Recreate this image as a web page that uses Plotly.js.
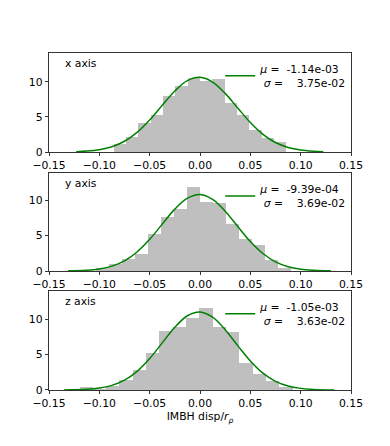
<!DOCTYPE html>
<html lang="en">
<head>
    <meta charset="UTF-8">
    <title>IMBH displacement</title>
    <script src="https://cdn.plot.ly/plotly-3.0.1.min.js"></script>
    <style>
        body { margin: 0; background: white; }
        #plot { width: 390px; height: 446px; }
    </style>
</head>
<body>
    <div id="plot"></div>
    <script>
        // tick labels
        const xTickVals = [-0.15, -0.10, -0.05, 0.00, 0.05, 0.10, 0.15];
        const xTickText = ['\u22120.15', '\u22120.10', '\u22120.05', '0.00', '0.05', '0.10', '0.15'];
        const yTickVals = [0, 5, 10];

        const panelNames = ['x axis', 'y axis', 'z axis'];
        const muText = ['-1.14e-03', '-9.39e-04', '-1.05e-03'];
        const sigmaText = ['3.75e-02', '3.69e-02', '3.63e-02'];

        // histogram bins (left edges, widths, heights)
        const binLeftX = [-0.0856, -0.0734, -0.0611, -0.0489, -0.0367, -0.0245, -0.0122, 0.0000, 0.0122, 0.0245, 0.0367, 0.0489, 0.0611, 0.0734];
        const binWidthX = 0.01223;
        const histX = [1.14, 2.19, 4.1, 5.3, 8.0, 9.43, 10.5, 10.1, 10.4, 6.95, 5.3, 3.14, 2.05, 1.38];

        const binLeftY = [-0.1037, -0.0908, -0.0778, -0.0649, -0.0520, -0.0391, -0.0261, -0.0132, -0.0003, 0.0127, 0.0256, 0.0385, 0.0515, 0.0644, 0.0773];
        const binWidthY = 0.01293;
        const histY = [0.48, 1.04, 1.75, 2.36, 5.29, 7.64, 8.82, 11.8, 9.7, 9.6, 6.7, 4.58, 3.63, 1.51, 0.48];

        const binLeftZ = [-0.1197, -0.1065, -0.0932, -0.0800, -0.0668, -0.0535, -0.0403, -0.0271, -0.0138, -0.0006, 0.0126, 0.0259, 0.0391, 0.0523, 0.0656, 0.0788];
        const binWidthZ = 0.01323;
        const histZ = [0.38, 0.15, 0.55, 1.4, 2.75, 5.17, 8.35, 8.83, 10.1, 11.5, 8.83, 8.2, 3.76, 2.25, 1.31, 0.38];

        // fitted curves
        const fitXx = [-0.123, -0.1125, -0.1, -0.0875, -0.075, -0.0625, -0.05, -0.0375, -0.025, -0.0125, 0, 0.0125, 0.025, 0.0375, 0.05, 0.0625, 0.075, 0.0875, 0.1, 0.1125, 0.1225];
        const fitXy = [0.05, 0.13, 0.33, 0.75, 1.53, 2.79, 4.55, 6.65, 8.69, 10.16, 10.63, 9.96, 8.35, 6.26, 4.2, 2.52, 1.35, 0.65, 0.28, 0.11, 0.05];

        const fitYx = [-0.131, -0.1125, -0.1, -0.0875, -0.075, -0.0625, -0.05, -0.0375, -0.025, -0.0125, 0, 0.0125, 0.025, 0.0375, 0.05, 0.0625, 0.075, 0.0875, 0.1, 0.1125, 0.13];
        const fitYy = [0.02, 0.11, 0.29, 0.69, 1.44, 2.69, 4.47, 6.62, 8.74, 10.29, 10.81, 10.12, 8.45, 6.28, 4.17, 2.47, 1.3, 0.61, 0.26, 0.1, 0.02];

        const fitZx = [-0.135, -0.1125, -0.1, -0.0875, -0.075, -0.0625, -0.05, -0.0375, -0.025, -0.0125, 0, 0.0125, 0.025, 0.0375, 0.05, 0.0625, 0.075, 0.0875, 0.1, 0.1125, 0.1335];
        const fitZy = [0.01, 0.1, 0.27, 0.65, 1.38, 2.62, 4.43, 6.64, 8.84, 10.46, 10.99, 10.25, 8.5, 6.25, 4.09, 2.37, 1.22, 0.56, 0.23, 0.08, 0.01];

        const yMax = [14.1, 13.8, 13.95];

        const font = 'DejaVu Sans, sans-serif';
        const panels = [
            { left: binLeftX, w: binWidthX, h: histX, fx: fitXx, fy: fitXy },
            { left: binLeftY, w: binWidthY, h: histY, fx: fitYx, fy: fitYy },
            { left: binLeftZ, w: binWidthZ, h: histZ, fx: fitZx, fy: fitZy }
        ];
        // paper domains of the three panels (top to bottom)
        const domains = [[0.7062, 1.0], [0.3531, 0.6430], [0.0, 0.2938]];

        const traces = [];
        const layout = {
            width: 390,
            height: 446,
            margin: { l: 49, r: 39, t: 53, b: 56 },
            paper_bgcolor: 'white',
            plot_bgcolor: 'white',
            font: { family: font, size: 10.8, color: 'black' },
            barmode: 'overlay',
            bargap: 0,
            annotations: []
        };

        panels.forEach((p, i) => {
            const n = i === 0 ? '' : String(i + 1);
            const xa = 'x' + n, ya = 'y' + n;
            const lg = 'legend' + n;

            traces.push({
                type: 'bar',
                x: p.left,
                y: p.h,
                width: p.w,
                offset: 0,
                marker: { color: '#bfbfbf', line: { width: 0 } },
                xaxis: xa, yaxis: ya,
                showlegend: false
            });
            traces.push({
                type: 'scatter',
                mode: 'lines',
                x: p.fx,
                y: p.fy,
                line: { color: '#008000', width: 1.5, shape: 'spline', smoothing: 1 },
                xaxis: xa, yaxis: ya,
                legend: lg,
                name: '<i>\u03bc</i>\u00a0=\u00a0\u00a0' + muText[i] +
                      '<br>\u00a0<i>\u03c3</i>\u00a0=\u00a0\u00a0\u00a0\u00a0' + sigmaText[i]
            });

            layout['xaxis' + n] = {
                domain: [0, 1],
                anchor: ya,
                range: [-0.15, 0.15],
                tickvals: xTickVals,
                ticktext: xTickText,
                ticks: 'outside',
                ticklen: 3.5,
                tickwidth: 0.8,
                tickcolor: 'black',
                showline: true,
                linecolor: 'black',
                linewidth: 0.8,
                mirror: true,
                showgrid: false,
                zeroline: false,
                tickfont: { family: font, size: 10.8, color: 'black' }
            };
            layout['yaxis' + n] = {
                domain: domains[i],
                anchor: xa,
                range: [0, yMax[i]],
                tickvals: yTickVals,
                ticks: 'outside',
                ticklen: 3.5,
                tickwidth: 0.8,
                tickcolor: 'black',
                showline: true,
                linecolor: 'black',
                linewidth: 0.8,
                mirror: true,
                showgrid: false,
                zeroline: false,
                tickfont: { family: font, size: 10.8, color: 'black' }
            };
            layout[lg] = {
                x: 0.567,
                xanchor: 'left',
                y: domains[i][1] - 0.069,
                yanchor: 'middle',
                bgcolor: 'rgba(0,0,0,0)',
                borderwidth: 0,
                valign: 'middle',
                font: { family: font, size: 10.8, color: 'black' }
            };
            layout.annotations.push({
                text: panelNames[i],
                xref: xa + ' domain',
                yref: ya + ' domain',
                x: 0.045,
                y: 0.895,
                xanchor: 'left',
                yanchor: 'middle',
                showarrow: false,
                font: { family: font, size: 10.8, color: 'black' }
            });
        });

        layout.xaxis3.title = {
            text: 'IMBH disp/<i>r</i><sub><i>\u03c1</i></sub>',
            font: { family: font, size: 10.8, color: 'black' },
            standoff: 2
        };

        Plotly.newPlot('plot', traces, layout, { displayModeBar: false, staticPlot: true });
    </script>
</body>
</html>
